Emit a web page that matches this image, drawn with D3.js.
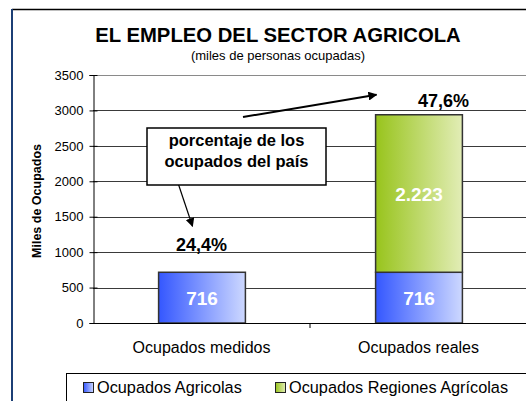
<!DOCTYPE html>
<html>
<head>
<meta charset="utf-8">
<script src="https://cdn.jsdelivr.net/npm/d3@7"></script>
<style>
  html, body { margin: 0; padding: 0; background: #fff; }
  svg { display: block; font-family: Arial, "Liberation Sans", sans-serif; }
</style>
</head>
<body>
<svg id="chart" width="526" height="401"></svg>
<script>
// ---- data ----
const categories = ["Ocupados medidos", "Ocupados reales"];
const ocupadosAgricolas = [716, 716];
const ocupadosRegiones = [0, 2223];
const porcentajes = [24.4, 47.6];
const yTicks = [0, 500, 1000, 1500, 2000, 2500, 3000, 3500];
const seriesNames = ["Ocupados Agricolas", "Ocupados Regiones Agrícolas"];
const title = "EL EMPLEO DEL SECTOR AGRICOLA";
const subtitle = "(miles de personas ocupadas)";
const yTitle = "Miles de Ocupados";
const noteLines = ["porcentaje de los", "ocupados del país"];

const es = d3.formatLocale({decimal: ",", thousands: ".", grouping: [3], currency: ["", "€"]});
const fmtInt = es.format(",");
const fmtPct = v => es.format(".1f")(v) + "%";

const svg = d3.select("#chart");
const W = 526, H = 401;
const plot = {left: 93, right: 527, top: 75, bottom: 323};

// gradients
const defs = svg.append("defs");
function grad(id, c0, c1) {
  const g = defs.append("linearGradient").attr("id", id).attr("x1", "0%").attr("x2", "100%").attr("y1", "0").attr("y2", "0");
  g.append("stop").attr("offset", "0%").attr("stop-color", c0);
  g.append("stop").attr("offset", "100%").attr("stop-color", c1);
}
grad("gBlue", "#3457ff", "#cdd8ff");
grad("gGreen", "#98c41c", "#e2edb6");
defs.append("marker").attr("id", "arrow").attr("viewBox", "0 0 10 10").attr("refX", 9).attr("refY", 5)
  .attr("markerWidth", 9).attr("markerHeight", 9).attr("markerUnits", "userSpaceOnUse").attr("orient", "auto")
  .append("path").attr("d", "M0,0 L10,5 L0,10 z").attr("fill", "#000");

// outer frame
svg.append("line").attr("x1", 12).attr("x2", W).attr("y1", 9.5).attr("y2", 9.5).attr("stroke", "#000").attr("stroke-width", 1.5);
svg.append("line").attr("x1", 12).attr("x2", 12).attr("y1", 9).attr("y2", H).attr("stroke", "#1c3f75").attr("stroke-width", 2);

// titles
svg.append("text").attr("x", 278).attr("y", 42).attr("text-anchor", "middle")
  .attr("font-size", 20.3).attr("font-weight", "bold").attr("fill", "#000").text(title);
svg.append("text").attr("x", 278).attr("y", 60).attr("text-anchor", "middle")
  .attr("font-size", 13).attr("fill", "#000").text(subtitle);

// scales
const y = d3.scaleLinear().domain([0, 3500]).range([plot.bottom, plot.top]);
const x = d3.scaleBand().domain(categories).range([plot.left, plot.right]).paddingInner(0.6).paddingOuter(0.3);

// gridlines
svg.append("g").selectAll("line").data(yTicks.filter(d => d > 0)).join("line")
  .attr("x1", plot.left).attr("x2", plot.right)
  .attr("y1", d => Math.round(y(d)) + 0.5).attr("y2", d => Math.round(y(d)) + 0.5)
  .attr("stroke", d => d === 3500 ? "#8a8a8a" : "#3a3a3a").attr("stroke-width", 1);

// y axis
const yAxis = svg.append("g").attr("transform", `translate(${plot.left + 0.5},0)`)
  .call(d3.axisLeft(y).tickValues(yTicks).tickSize(4).tickPadding(6).tickFormat(d3.format("d")));
yAxis.select(".domain").attr("stroke", "#000");
yAxis.selectAll(".tick line").attr("x2", -4).attr("x1", 4).attr("stroke", "#000");
yAxis.selectAll("text").attr("font-size", 13).attr("font-family", "Arial, 'Liberation Sans', sans-serif").attr("fill", "#000");

svg.append("text").attr("transform", `translate(41,${(plot.top + plot.bottom) / 2 + 2}) rotate(-90)`)
  .attr("text-anchor", "middle").attr("font-size", 12.5).attr("font-weight", "bold").text(yTitle);

// stacked bars
const stackData = categories.map((c, i) => ({cat: c, a: ocupadosAgricolas[i], r: ocupadosRegiones[i]}));
const stack = d3.stack().keys(["a", "r"])(stackData);
const fills = {a: "url(#gBlue)", r: "url(#gGreen)"};
stack.forEach(layer => {
  svg.append("g").selectAll("rect").data(layer.filter(d => d[1] > d[0])).join("rect")
    .attr("x", d => x(d.data.cat) + 0.5)
    .attr("width", x.bandwidth())
    .attr("y", d => y(d[1]))
    .attr("height", d => y(d[0]) - y(d[1]))
    .attr("fill", fills[layer.key]).attr("stroke", "#333").attr("stroke-width", 1.5);
  svg.append("g").selectAll("text").data(layer.filter(d => d[1] > d[0])).join("text")
    .attr("x", d => x(d.data.cat) + x.bandwidth() / 2 + 0.5)
    .attr("y", d => (y(d[0]) + y(d[1])) / 2 + 7)
    .attr("text-anchor", "middle").attr("font-size", 19).attr("font-weight", "bold").attr("fill", "#fff")
    .text(d => fmtInt(d[1] - d[0]));
});

// x axis
svg.append("line").attr("x1", plot.left).attr("x2", plot.right).attr("y1", plot.bottom + 0.5).attr("y2", plot.bottom + 0.5).attr("stroke", "#000");
svg.append("line").attr("x1", (x(categories[0]) + x(categories[1]) + x.bandwidth()) / 2).attr("x2", (x(categories[0]) + x(categories[1]) + x.bandwidth()) / 2)
  .attr("y1", plot.bottom).attr("y2", plot.bottom + 5).attr("stroke", "#000");
svg.append("g").selectAll("text").data(categories).join("text")
  .attr("x", d => x(d) + x.bandwidth() / 2).attr("y", 353)
  .attr("text-anchor", "middle").attr("font-size", 16).attr("fill", "#000").text(d => d);

// percentage labels
const totals = stackData.map(d => d.a + d.r);
const pctPos = [
  {x: x(categories[0]) + x.bandwidth() / 2, y: y(totals[0]) - 21},
  {x: x(categories[1]) + x.bandwidth() / 2 + 25, y: y(totals[1]) - 8}
];
svg.append("g").selectAll("text").data(porcentajes).join("text")
  .attr("x", (d, i) => pctPos[i].x).attr("y", (d, i) => pctPos[i].y)
  .attr("text-anchor", "middle").attr("font-size", 18).attr("font-weight", "bold").attr("fill", "#000")
  .text(d => fmtPct(d));

// annotation box
const box = {x: 147, y: 128, w: 179, h: 57};
svg.append("line").attr("x1", 243).attr("y1", 117).attr("x2", pctPos[1].x - 67).attr("y2", pctPos[1].y - 12)
  .attr("stroke", "#000").attr("stroke-width", 2).attr("marker-end", "url(#arrow)");
svg.append("line").attr("x1", 178).attr("y1", box.y + box.h - 2).attr("x2", pctPos[0].x - 9).attr("y2", pctPos[0].y - 25)
  .attr("stroke", "#000").attr("stroke-width", 1.2).attr("marker-end", "url(#arrow)");
svg.append("rect").attr("x", box.x).attr("y", box.y).attr("width", box.w).attr("height", box.h)
  .attr("fill", "#fff").attr("stroke", "#000").attr("stroke-width", 1.5);
svg.append("g").selectAll("text").data(noteLines).join("text")
  .attr("x", box.x + box.w / 2).attr("y", (d, i) => 146 + i * 21)
  .attr("text-anchor", "middle").attr("font-size", 16.5).attr("font-weight", "bold").attr("fill", "#000").text(d => d);

// legend
svg.append("rect").attr("x", 66.5).attr("y", 373.5).attr("width", 470).attr("height", 40)
  .attr("fill", "#fff").attr("stroke", "#000").attr("stroke-width", 1);
const legendX = [83, 275];
const legendFills = ["url(#gBlue)", "url(#gGreen)"];
const lg = svg.append("g").selectAll("g").data(seriesNames).join("g")
  .attr("transform", (d, i) => `translate(${legendX[i]},0)`);
lg.append("rect").attr("x", 0.5).attr("y", 382.5).attr("width", 10).attr("height", 10)
  .attr("fill", (d, i) => legendFills[i]).attr("stroke", "#222").attr("stroke-width", 1);
lg.append("text").attr("x", 14).attr("y", 393).attr("font-size", 16.3).attr("fill", "#000").text(d => d);
</script>
</body>
</html>
